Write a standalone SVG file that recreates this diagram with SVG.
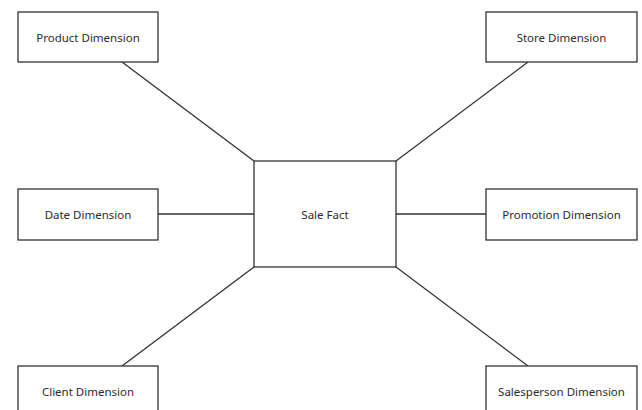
<svg xmlns="http://www.w3.org/2000/svg" width="642" height="410" viewBox="0 0 642 410">
<style>
.box{fill:#fff;stroke:#333;stroke-width:1.3}
.lbl{font-family:"Noto Sans","Liberation Sans",sans-serif;font-size:11.5px;fill:#2b2b2b;text-anchor:middle;dominant-baseline:central}
.con{stroke:#333;stroke-width:1.3;fill:none}
</style>
<rect width="642" height="410" fill="#fff"/>
<g id="connectors">
<line class="con" x1="122" y1="62" x2="254" y2="161"/>
<line class="con" x1="528" y1="62" x2="396" y2="161"/>
<line class="con" x1="158" y1="214" x2="254" y2="214"/>
<line class="con" x1="396" y1="214" x2="486" y2="214"/>
<line class="con" x1="122" y1="366" x2="254" y2="267"/>
<line class="con" x1="528" y1="366" x2="396" y2="267"/>
</g>
<g id="product"><rect class="box" x="18" y="12" width="140" height="50"/><text class="lbl" x="88" y="37">Product Dimension</text></g>
<g id="store"><rect class="box" x="486" y="12" width="151" height="50"/><text class="lbl" x="561.5" y="37">Store Dimension</text></g>
<g id="date"><rect class="box" x="18" y="189" width="140" height="51"/><text class="lbl" x="88" y="214.5">Date Dimension</text></g>
<g id="promotion"><rect class="box" x="486" y="189" width="151" height="51"/><text class="lbl" x="561.5" y="214.5">Promotion Dimension</text></g>
<g id="salefact"><rect class="box" x="254" y="161" width="142" height="106"/><text class="lbl" x="325" y="214">Sale Fact</text></g>
<g id="client"><rect class="box" x="18" y="366" width="140" height="60"/><text class="lbl" x="88" y="391">Client Dimension</text></g>
<g id="salesperson"><rect class="box" x="486" y="366" width="151" height="60"/><text class="lbl" x="561.5" y="391">Salesperson Dimension</text></g>
</svg>
